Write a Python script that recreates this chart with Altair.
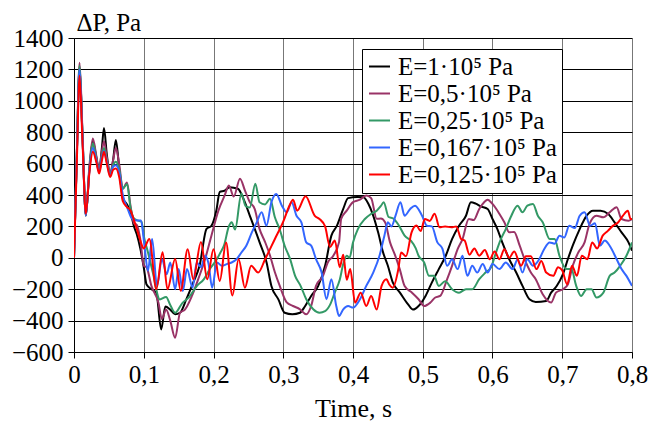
import altair as alt
import pandas as pd

# series: (time s, dP Pa)
black = [(0,0),(.004,650),(.008,1215),(.012,800),(.017,270),(.022,560),(.027,740),(.032,640),(.036,550),(.040,700),(.043,826),(.047,660),(.052,526),(.056,620),(.060,751),(.065,560),(.070,380),(.076,340),(.081,290),(.086,200),(.090,150),(.095,60),(.100,-60),(.104,-170),(.111,-200),(.118,-222),(.125,-456),(.131,-310),(.138,-330),(.145,-360),(.152,-350),(.161,-265),(.171,-157),(.180,-51),(.190,184),(.197,204),(.204,300),(.209,420),(.216,428),(.223,450),(.235,440),(.243,375),(.252,269),(.266,100),(.276,-28),(.283,-179),(.293,-265),(.302,-350),(.313,-360),(.324,-350),(.331,-310),(.340,-243),(.350,-180),(.360,-51),(.369,141),(.377,205),(.386,312),(.393,380),(.406,387),(.415,385),(.422,344),(.429,269),(.436,162),(.443,36),(.450,-51),(.457,-157),(.467,-220),(.479,-297),(.486,-330),(.494,-307),(.504,-243),(.513,-158),(.523,-72),(.533,13),(.542,119),(.552,204),(.562,268),(.569,354),(.576,345),(.583,328),(.593,311),(.600,247),(.607,183),(.614,98),(.624,-9),(.634,-94),(.643,-179),(.653,-264),(.662,-281),(.677,-275),(.684,-222),(.692,-180),(.701,-104),(.708,-9),(.715,77),(.725,183),(.735,268),(.744,300),(.755,300),(.766,279),(.775,226),(.785,162),(.795,98),(.800,45)]

purple = [(0,0),(.004,660),(.008,1243),(.012,820),(.017,270),(.022,580),(.027,760),(.032,650),(.036,560),(.040,680),(.043,740),(.047,640),(.052,540),(.056,620),(.060,700),(.065,590),(.070,440),(.076,479),(.081,330),(.086,220),(.090,210),(.095,120),(.100,-50),(.104,-60),(.111,-179),(.121,-284),(.126,-390),(.132,-330),(.138,-400),(.145,-510),(.152,-350),(.159,-330),(.169,-243),(.178,-137),(.188,-8),(.197,141),(.207,300),(.216,397),(.222,461),(.229,390),(.238,504),(.245,430),(.252,355),(.259,312),(.266,184),(.274,100),(.281,15),(.288,-92),(.295,-179),(.305,-284),(.314,-307),(.324,-328),(.333,-360),(.340,-307),(.347,-179),(.357,-115),(.364,-28),(.372,15),(.380,100),(.383,248),(.391,300),(.400,355),(.410,370),(.419,397),(.426,380),(.434,248),(.440,250),(.446,226),(.453,100),(.460,20),(.467,-72),(.474,-180),(.484,-220),(.494,-264),(.502,-307),(.511,-285),(.518,-253),(.525,-243),(.535,-136),(.542,-51),(.550,55),(.557,119),(.566,247),(.573,240),(.581,311),(.588,354),(.593,370),(.600,343),(.610,279),(.617,226),(.624,162),(.631,165),(.639,77),(.646,-9),(.655,-94),(.662,-136),(.672,-232),(.684,-285),(.691,-222),(.701,-200),(.708,-170),(.715,-51),(.723,34),(.732,98),(.739,215),(.749,268),(.759,258),(.768,290),(.778,322),(.785,247),(.795,236),(.800,247)]

green = [(0,0),(.004,650),(.008,1225),(.012,800),(.017,270),(.022,560),(.027,730),(.032,630),(.036,550),(.040,650),(.043,700),(.047,620),(.052,530),(.056,590),(.060,612),(.065,560),(.070,440),(.076,470),(.081,320),(.086,250),(.092,237),(.097,228),(.100,141),(.106,36),(.113,-93),(.123,-265),(.132,-250),(.138,-300),(.145,-350),(.155,-290),(.165,-250),(.176,-180),(.186,-137),(.195,-70),(.205,-8),(.210,34),(.215,77),(.222,200),(.226,226),(.231,180),(.240,410),(.246,330),(.252,320),(.260,472),(.266,354),(.274,340),(.281,376),(.288,258),(.295,180),(.302,77),(.310,-10),(.317,-115),(.325,-180),(.333,-264),(.343,-328),(.352,-350),(.360,-340),(.367,-300),(.374,-220),(.381,-140),(.386,-40),(.391,13),(.395,0),(.400,98),(.407,183),(.417,247),(.426,280),(.434,300),(.440,330),(.444,354),(.451,260),(.458,250),(.466,204),(.474,141),(.483,109),(.490,60),(.494,13),(.502,-30),(.509,-115),(.516,-115),(.523,-179),(.532,-150),(.542,-200),(.552,-222),(.562,-200),(.571,-200),(.581,-136),(.590,-94),(.598,-60),(.605,34),(.612,119),(.619,183),(.626,258),(.636,332),(.643,290),(.650,332),(.658,343),(.665,268),(.672,226),(.682,119),(.689,119),(.696,13),(.706,-72),(.713,-72),(.720,-179),(.727,-243),(.735,-200),(.742,-200),(.749,-253),(.759,-222),(.768,-115),(.775,-94),(.783,-51),(.792,13),(.800,98)]

blue = [(0,0),(.004,640),(.008,1200),(.012,790),(.017,270),(.022,550),(.027,700),(.032,620),(.036,545),(.040,640),(.043,680),(.047,610),(.052,520),(.056,580),(.060,590),(.065,540),(.070,400),(.077,312),(.083,250),(.090,237),(.096,237),(.101,77),(.106,-83),(.112,119),(.119,-179),(.126,-9),(.133,-104),(.138,-30),(.145,-200),(.150,-72),(.156,-211),(.162,-72),(.170,-190),(.176,-30),(.182,-60),(.188,13),(.193,-40),(.198,-190),(.205,-30),(.212,-51),(.219,-40),(.226,-30),(.233,-9),(.240,34),(.247,77),(.255,162),(.262,226),(.269,290),(.276,205),(.283,354),(.290,407),(.298,332),(.305,290),(.312,354),(.319,268),(.326,226),(.333,98),(.340,77),(.347,-9),(.355,-94),(.362,-264),(.369,-136),(.376,-307),(.380,-371),(.386,-328),(.393,-307),(.400,-317),(.410,-264),(.419,-179),(.429,-94),(.438,13),(.445,141),(.450,226),(.455,200),(.461,268),(.468,354),(.474,268),(.482,311),(.489,332),(.499,268),(.506,204),(.513,200),(.521,98),(.528,60),(.535,-51),(.542,-10),(.550,-72),(.557,13),(.564,-115),(.571,-51),(.578,-94),(.586,-40),(.593,-94),(.600,-40),(.610,-72),(.619,-30),(.629,-72),(.636,-9),(.643,-94),(.650,-9),(.658,-51),(.667,-9),(.674,55),(.682,98),(.689,90),(.696,141),(.703,130),(.710,204),(.718,190),(.725,268),(.732,290),(.740,204),(.747,220),(.754,77),(.761,110),(.768,77),(.778,-9),(.785,-72),(.792,-115),(.800,-179)]

red = [(0,0),(.004,600),(.008,1160),(.012,760),(.017,280),(.022,540),(.027,676),(.032,610),(.036,537),(.040,620),(.043,676),(.047,600),(.052,515),(.056,560),(.060,569),(.065,510),(.070,360),(.076,323),(.081,302),(.086,240),(.090,184),(.095,110),(.100,60),(.108,120),(.118,-200),(.127,36),(.134,-200),(.145,-8),(.153,-210),(.163,55),(.171,-137),(.182,100),(.191,-137),(.200,55),(.209,-147),(.218,98),(.227,-240),(.236,-9),(.245,-190),(.254,-51),(.264,-94),(.274,-9),(.288,120),(.300,230),(.309,333),(.314,370),(.320,300),(.332,392),(.345,269),(.352,247),(.360,200),(.367,70),(.374,110),(.381,-60),(.386,20),(.391,-140),(.396,-72),(.403,-286),(.411,-222),(.419,-307),(.426,-243),(.434,-329),(.441,-179),(.448,-137),(.452,-170),(.457,-190),(.465,-72),(.469,34),(.476,10),(.484,162),(.491,205),(.497,170),(.503,247),(.510,235),(.517,280),(.524,194),(.532,200),(.541,194),(.548,200),(.555,120),(.560,110),(.567,20),(.574,60),(.581,13),(.589,50),(.596,-9),(.603,40),(.610,-9),(.617,55),(.624,0),(.631,40),(.641,-51),(.648,10),(.655,10),(.663,-72),(.670,-20),(.677,-94),(.687,-115),(.694,-60),(.700,-80),(.707,-169),(.714,-51),(.721,-115),(.728,13),(.736,-9),(.743,98),(.750,60),(.758,141),(.765,170),(.773,205),(.780,225),(.787,268),(.794,300),(.798,247),(.800,247)]

names = ["E=1·10⁵ Pa", "E=0,5·10⁵ Pa", "E=0,25·10⁵ Pa", "E=0,167·10⁵ Pa", "E=0,125·10⁵ Pa"]
colors = ["#000000", "#993366", "#339966", "#3366FF", "#FF0000"]
series = [black, purple, green, blue, red]

rows = []
for name, s in zip(names, series):
    for t, v in s:
        rows.append({"t": t, "v": v, "E": name})
df = pd.DataFrame(rows)

FONT = "Liberation Serif"
FS = 25

chart = alt.Chart(df).mark_line(strokeWidth=2, interpolate="monotone", clip=True).encode(
    x=alt.X("t:Q", scale=alt.Scale(domain=[0, 0.8], nice=False),
            axis=alt.Axis(values=[0, .1, .2, .3, .4, .5, .6, .7, .8],
                          labelExpr="replace(format(datum.value, '.1~f'), '.', ',')",
                          title="Time, s", titleFontSize=26, titleY=64, titleBaseline="alphabetic",
                          labelPadding=4, tickSize=6,
                          gridColor="#777777", labelFlush=False)),
    y=alt.Y("v:Q", scale=alt.Scale(domain=[-600, 1400], nice=False),
            axis=alt.Axis(values=list(range(-600, 1401, 200)), format="d",
                          title="ΔP, Pa", titleAngle=0, titleX=2, titleY=-8,
                          titleAlign="left", titleBaseline="alphabetic",
                          labelPadding=5, tickSize=6,
                          gridColor="black", labelFlush=False)),
    color=alt.Color("E:N", scale=alt.Scale(domain=names, range=colors),
                    legend=alt.Legend(title=None, orient="none", legendX=288, legendY=11,
                                      labelExpr="datum.label + '\u00a0\u00a0\u00a0\u00a0'",
                                      symbolType="stroke", symbolSize=441, symbolStrokeWidth=2,
                                      strokeColor="black", fillColor="white", padding=5,
                                      rowPadding=1, labelOffset=6, labelLimit=400)),
).properties(
    width=558, height=314,
    autosize=alt.AutoSizeParams(type="none"),
    padding={"left": 66, "top": 30, "right": 17, "bottom": 74},
).configure(font=FONT).configure_view(stroke=None).configure_axis(
    gridWidth=1, domainWidth=1, gridOpacity=1, domainColor="black", tickColor="black",
    labelFont=FONT, labelFontSize=FS, labelColor="black",
    titleFont=FONT, titleFontSize=FS, titleFontWeight="normal", titleColor="black",
).configure_legend(labelFont=FONT, labelFontSize=FS, labelColor="black")

chart.save("out.html", embed_options={"renderer": "svg", "actions": False})
